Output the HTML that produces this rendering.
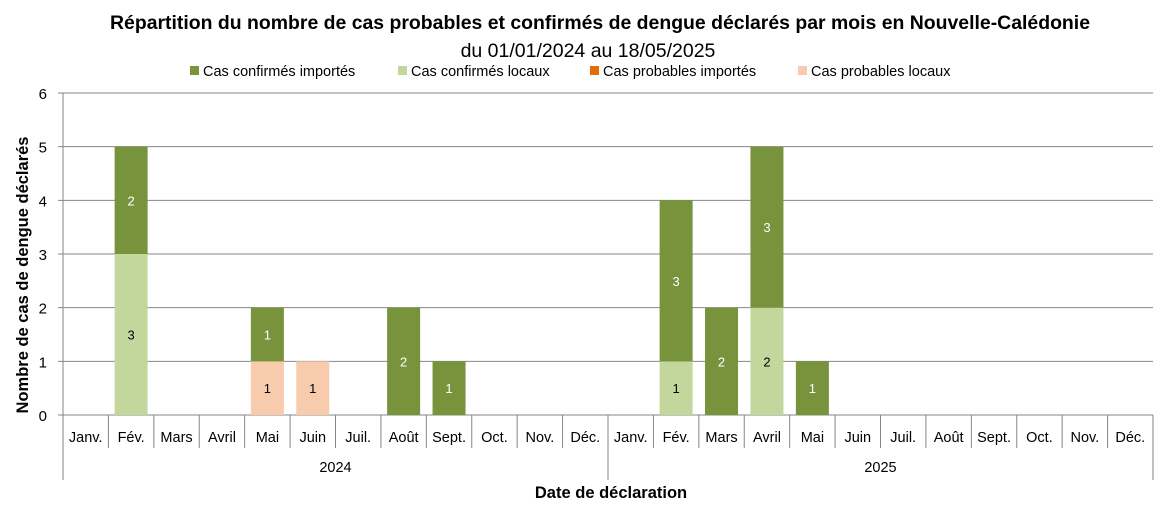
<!DOCTYPE html>
<html><head><meta charset="utf-8"><style>
body{margin:0;background:#fff;}
svg{display:block;font-family:"Liberation Sans",sans-serif;}
</style></head><body>
<svg id="chart" width="1162" height="508">
<text x="600" y="29" text-anchor="middle" font-size="19.5" font-weight="bold" fill="#000" textLength="980" lengthAdjust="spacingAndGlyphs">Répartition du nombre de cas probables et confirmés de dengue déclarés par mois en Nouvelle-Calédonie</text>
<text x="588" y="57" text-anchor="middle" font-size="19.5" fill="#000">du 01/01/2024  au 18/05/2025</text>
<g id="legend"></g>
<g id="grid"></g>
<g id="bars"></g>
<g id="axes"></g>
<text transform="translate(28,275) rotate(-90)" text-anchor="middle" font-size="16.5" font-weight="bold">Nombre de cas de dengue déclarés</text>
<text x="611" y="498" text-anchor="middle" font-size="16.5" font-weight="bold">Date de déclaration</text>
</svg>
<script>
const months=["Janv.","Fév.","Mars","Avril","Mai","Juin","Juil.","Août","Sept.","Oct.","Nov.","Déc."];
const years=["2024","2025"];
const seriesNames=["Cas confirmés importés","Cas confirmés locaux","Cas probables importés","Cas probables locaux"];
const seriesColors=["#77933C","#C3D69B","#E36C09","#F8CBAD"];
const confImportes=[0,2,0,0,1,0,0,2,1,0,0,0, 0,3,2,3,1,0,0,0,0,0,0,0];
const confLocaux  =[0,3,0,0,0,0,0,0,0,0,0,0, 0,1,0,2,0,0,0,0,0,0,0,0];
const probImportes=[0,0,0,0,0,0,0,0,0,0,0,0, 0,0,0,0,0,0,0,0,0,0,0,0];
const probLocaux  =[0,0,0,0,1,1,0,0,0,0,0,0, 0,0,0,0,0,0,0,0,0,0,0,0];
const yTicks=[0,1,2,3,4,5,6];

const NS="http://www.w3.org/2000/svg";
const X0=63,X1=1153,Y0=415,Y6=93,N=24;
const bw=(X1-X0)/N;
const x=i=>X0+bw*i;
const y=v=>Y0-(Y0-Y6)*v/6;
function mk(tag,attrs,parent,text){const e=document.createElementNS(NS,tag);for(const k in attrs)e.setAttribute(k,attrs[k]);if(text!==undefined)e.textContent=text;parent.appendChild(e);return e;}
const grid=document.getElementById('grid'),bars=document.getElementById('bars'),axes=document.getElementById('axes'),legend=document.getElementById('legend');

yTicks.forEach(t=>{
  const l=mk('line',{x1:X0-5,x2:X1,y1:y(t),y2:y(t),stroke:'#868686','stroke-width':1},grid);
  
  
  const tx=mk('text',{x:X0-16,y:y(t)+6,'text-anchor':'end','font-size':15},axes,String(t));
  
  
});
mk('line',{x1:X0,x2:X0,y1:Y6,y2:Y0,stroke:'#868686'},axes);

const stack=[[probLocaux,3],[probImportes,2],[confLocaux,1],[confImportes,0]];
for(let i=0;i<N;i++){
  let base=0;
  const cx=x(i)+bw/2;
  stack.forEach(([arr,si])=>{
    const v=arr[i]; if(!v) return;
    const r=mk('rect',{x:cx-16.5,y:y(base+v),width:33,height:y(base)-y(base+v),fill:seriesColors[si]},bars);
    
    
    const t=mk('text',{x:cx,y:(y(base)+y(base+v))/2+5,'text-anchor':'middle','font-size':13,fill:si===0?'#fff':'#000'},bars,String(v));
    
    
    base+=v;
  });
  const lab=mk('text',{x:cx,y:442,'text-anchor':'middle','font-size':14.5},axes,months[i%12]);
  
  
}
for(let i=0;i<=N;i++){
  const bottom=(i%12===0)?480:448;
  mk('line',{x1:x(i),x2:x(i),y1:Y0,y2:bottom,stroke:'#868686'},axes);
}
years.forEach((yr,k)=>{
  const t=mk('text',{x:x(k*12+6),y:472,'text-anchor':'middle','font-size':14.5},axes,yr);
  
  
});
const lx=[190,398,590,798];
seriesNames.forEach((n,i)=>{
  const r=mk('rect',{x:lx[i],y:66,width:9,height:9,fill:seriesColors[i]},legend);
  
  
  const t=mk('text',{x:lx[i]+13,y:76,'font-size':14.5},legend,n);
  
  
});
</script>
</body></html>
